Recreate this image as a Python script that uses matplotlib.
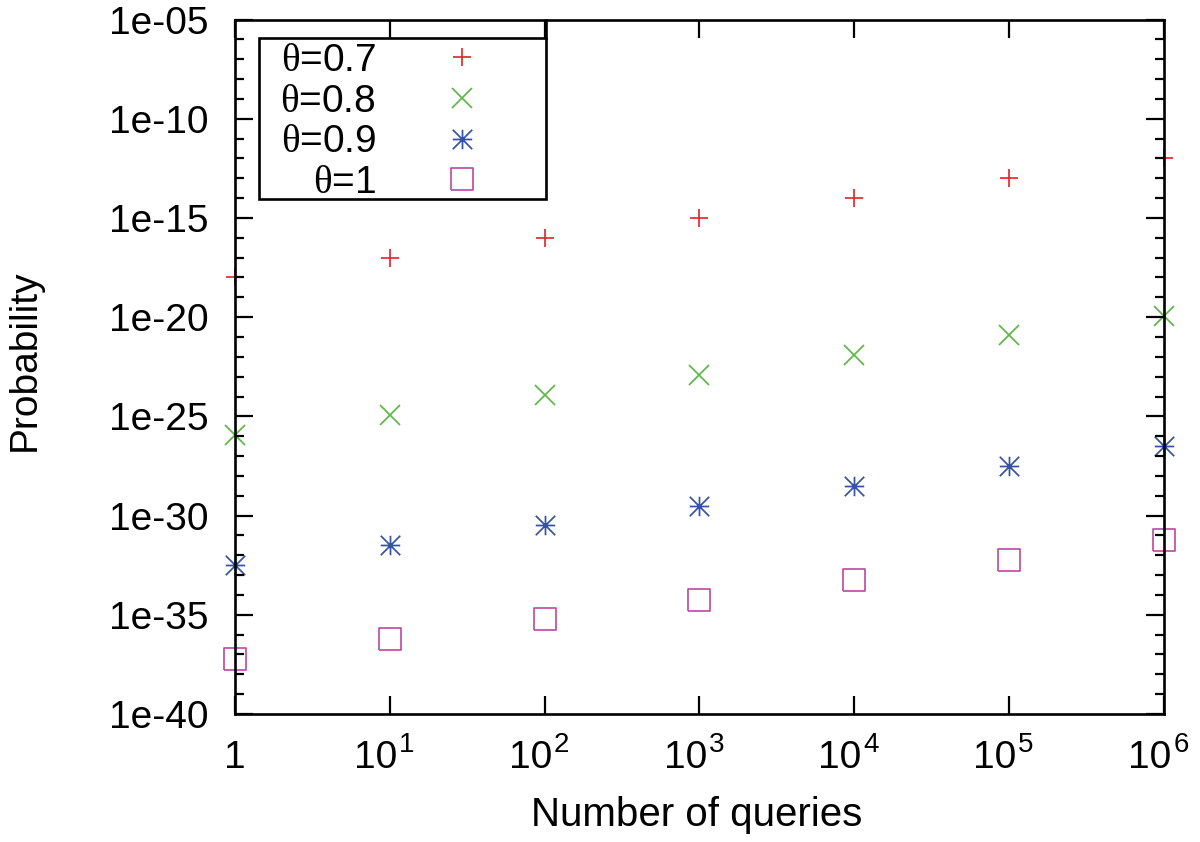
import matplotlib
matplotlib.use("Agg")
import matplotlib.pyplot as plt
from matplotlib.path import Path
from matplotlib.patches import Rectangle
from matplotlib.lines import Line2D
from matplotlib.ticker import NullLocator, NullFormatter

plt.rcParams['font.family'] = ['Liberation Sans', 'DejaVu Sans']
plt.rcParams['mathtext.fontset'] = 'custom'
plt.rcParams['mathtext.rm'] = 'Liberation Sans'
plt.rcParams['mathtext.it'] = 'Liberation Serif'
plt.rcParams['mathtext.bf'] = 'Liberation Sans:bold'

# ---- data ----
queries = [1, 10, 100, 1000, 10000, 100000, 1000000]
prob_07 = [1.0e-18, 1.0e-17, 1.0e-16, 1.0e-15, 1.0e-14, 1.0e-13, 1.0e-12]
prob_08 = [1.2e-26, 1.2e-25, 1.2e-24, 1.2e-23, 1.2e-22, 1.2e-21, 1.2e-20]
prob_09 = [3.2e-33, 3.2e-32, 3.2e-31, 3.2e-30, 3.2e-29, 3.2e-28, 3.2e-27]
prob_10 = [5.9e-38, 5.9e-37, 5.9e-36, 5.9e-35, 5.9e-34, 5.9e-33, 5.9e-32]
series_labels = [r'$\theta$=0.7', r'$\theta$=0.8', r'$\theta$=0.9', r'$\theta$=1']
x_ticks = [1, 10, 100, 1000, 10000, 100000, 1000000]
x_tick_bases = ['1', '10', '10', '10', '10', '10', '10']
x_tick_exponents = ['', '1', '2', '3', '4', '5', '6']
y_ticks = [1e-40, 1e-35, 1e-30, 1e-25, 1e-20, 1e-15, 1e-10, 1e-5]
y_tick_labels = ['1e-40', '1e-35', '1e-30', '1e-25', '1e-20', '1e-15', '1e-10', '1e-05']
y_minor_ticks = [10.0 ** e for e in range(-40, -4)]

# ---- markers ----
M, L = Path.MOVETO, Path.LINETO
asterisk = Path([(-1, 0), (1, 0), (0, -1), (0, 1), (-1, -1), (1, 1), (-1, 1), (1, -1)],
                [M, L, M, L, M, L, M, L])
sq_dot = Path([(-1, -1), (1, -1), (1, 1), (-1, 1), (-1, -1), (-0.03, 0), (0.03, 0)],
              [M, L, L, L, L, M, L])

styles = [
    dict(marker='+', ms=13.5, color='#e6282e'),
    dict(marker='x', ms=15, color='#5cb946'),
    dict(marker=asterisk, ms=14, color='#3553a4'),
    dict(marker=sq_dot, ms=16, color='#c04ea4'),
]

fig = plt.figure(figsize=(12, 8.42), dpi=100)
ax = fig.add_axes([0.1958, 0.152, 0.7742, 0.8248])

handles = []
for ys, st, lab in zip([prob_07, prob_08, prob_09, prob_10], styles, series_labels):
    h, = ax.plot(queries, ys, linestyle='none', marker=st['marker'], markersize=st['ms'],
                 markeredgecolor=st['color'], markerfacecolor='none', markeredgewidth=1.25,
                 clip_on=False, label=lab)
    handles.append(h)

ax.set_xscale('log')
ax.set_yscale('log')
ax.set_xlim(1, 1e6)
ax.set_ylim(1e-40, 1e-5)
ax.set_xticks(x_ticks)
ax.xaxis.set_major_formatter(NullFormatter())
ax.xaxis.set_minor_locator(NullLocator())
ax.set_yticks(y_ticks)
ax.set_yticklabels(y_tick_labels)
ax.set_yticks(y_minor_ticks, minor=True)
ax.yaxis.set_minor_formatter(NullFormatter())
ax.set_axisbelow(False)

for s in ax.spines.values():
    s.set_linewidth(1.9)
ax.tick_params(which='both', direction='in', top=True, right=True, width=1.6, labelsize=28)
ax.tick_params(which='major', length=13)
ax.tick_params(which='minor', length=6.5)
ax.tick_params(axis='y', which='major', pad=19)

# x tick labels: base and superscript exponent as real text
for xt, base, ex in zip(x_ticks, x_tick_bases, x_tick_exponents):
    if ex == '':
        ax.annotate(base, xy=(xt, 0), xycoords=('data', 'axes fraction'),
                    xytext=(0, -38.9), textcoords='offset points',
                    ha='center', va='baseline', fontsize=28, annotation_clip=False)
    else:
        ax.annotate(base, xy=(xt, 0), xycoords=('data', 'axes fraction'),
                    xytext=(5.3, -38.9), textcoords='offset points',
                    ha='right', va='baseline', fontsize=28, annotation_clip=False)
        ax.annotate(ex, xy=(xt, 0), xycoords=('data', 'axes fraction'),
                    xytext=(6.6, -27.4), textcoords='offset points',
                    ha='left', va='baseline', fontsize=20, annotation_clip=False)

ax.set_xlabel('Number of queries', fontsize=29)
ax.set_ylabel('Probability', fontsize=28)
ax.xaxis.set_label_coords(0.497, -0.118)
ax.yaxis.set_label_coords(-0.2067, 0.51)

leg = ax.legend(handles=handles, labels=series_labels, loc='upper right',
                bbox_to_anchor=(0.2858, 0.9662), bbox_transform=ax.transAxes,
                frameon=False, markerfirst=False, fontsize=28, borderpad=0,
                borderaxespad=0, handlelength=2.0, handletextpad=1.2,
                labelspacing=0.12)

# legend frame (gnuplot key box)
x0, x1, y0, y1 = 0.0258, 0.3348, 0.7415, 0.9734
ax.add_patch(Rectangle((x0, y0), x1 - x0, y1 - y0, transform=ax.transAxes,
                       fill=False, edgecolor='black', linewidth=1.9, zorder=4,
                       clip_on=False))
ax.add_line(Line2D([x1, x1], [y1, 1.0], transform=ax.transAxes, color='black',
                   linewidth=1.9, zorder=4, clip_on=False))

fig.savefig('out.png', dpi=100)
